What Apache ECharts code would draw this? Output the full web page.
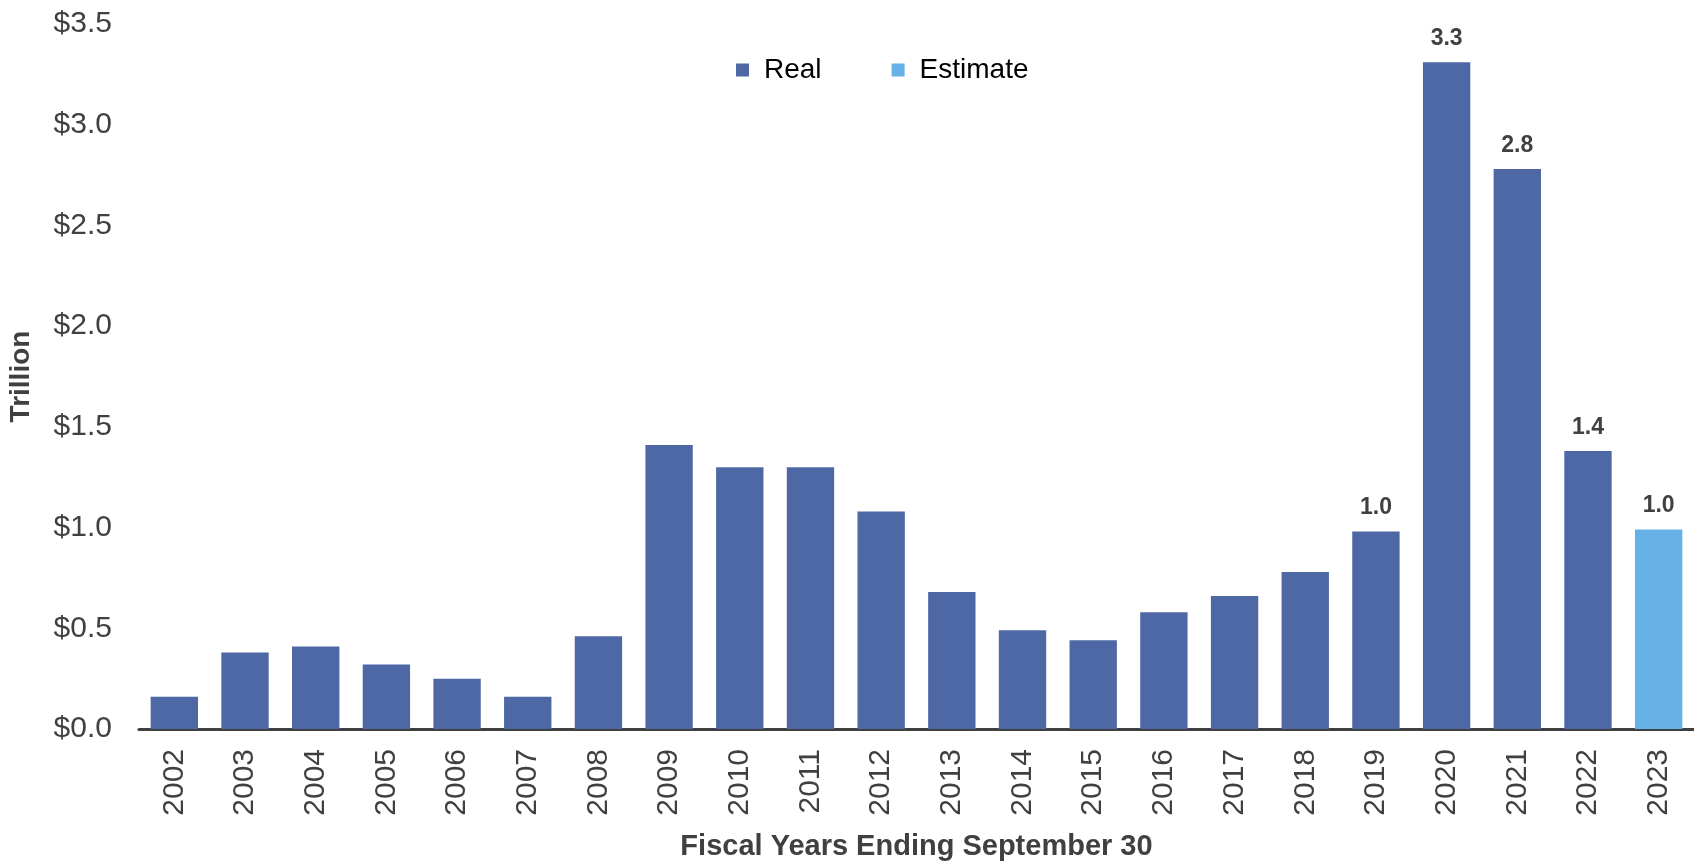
<!DOCTYPE html>
<html>
<head>
<meta charset="utf-8">
<script src="https://cdn.jsdelivr.net/npm/echarts@6/dist/echarts.min.js"></script>
<style>
  html, body { margin: 0; padding: 0; background: #fff; }
  #deficitChart { width: 1694px; height: 863px; }
</style>
</head>
<body>
<div id="deficitChart"></div>
<script>
// fiscal years and deficit in trillions
const years = ['2002', '2003', '2004', '2005', '2006', '2007', '2008', '2009', '2010', '2011', '2012',
  '2013', '2014', '2015', '2016', '2017', '2018', '2019', '2020', '2021', '2022', '2023'];
const realDeficit = [0.16, 0.38, 0.41, 0.32, 0.25, 0.16, 0.46, 1.41, 1.30, 1.30, 1.08,
  0.68, 0.49, 0.44, 0.58, 0.66, 0.78, 0.98, 3.31, 2.78, 1.38, null];
const estimateDeficit = [null, null, null, null, null, null, null, null, null, null, null,
  null, null, null, null, null, null, null, null, null, null, 0.99];
const labeledYears = ['2019', '2020', '2021', '2022', '2023'];

let myChart = echarts.init(document.getElementById('deficitChart'));

const barLabel = {
  show: true,
  position: 'top',
  distance: 12,
  color: '#404040',
  fontSize: 23,
  fontWeight: 'bold',
  fontFamily: 'Liberation Sans, Arial',
  formatter: function (p) {
    return labeledYears.indexOf(p.name) >= 0 && p.value != null ? p.value.toFixed(1) : '';
  }
};

myChart.setOption({
  animation: false,
  textStyle: { fontFamily: 'Liberation Sans, Arial' },
  grid: {
    top: 24,
    bottom: 134,
    left: 139,
    right: 0,
    containLabel: false,
    outerBoundsMode: 'none'
  },
  legend: {
    top: 51,
    left: 731,
    itemWidth: 13,
    itemHeight: 13,
    itemGap: 70,
    icon: 'rect',
    textStyle: {
      fontSize: 28,
      color: '#000',
      padding: [0, 0, 0, 10]
    },
    data: ['Real', 'Estimate']
  },
  xAxis: {
    type: 'category',
    data: years,
    name: 'Fiscal Years Ending September 30',
    nameLocation: 'middle',
    nameGap: 103,
    nameTextStyle: {
      fontSize: 29,
      fontWeight: 'bold',
      color: '#404040'
    },
    axisTick: { show: false },
    axisLine: {
      lineStyle: { color: '#404040', width: 3 }
    },
    axisLabel: {
      rotate: 90,
      margin: 20,
      fontSize: 30,
      color: '#404040'
    }
  },
  yAxis: {
    type: 'value',
    min: 0,
    max: 3.5,
    interval: 0.5,
    name: 'Trillion',
    nameLocation: 'middle',
    nameRotate: 90,
    nameGap: 104,
    nameTextStyle: {
      fontSize: 28,
      fontWeight: 'bold',
      color: '#404040'
    },
    splitLine: { show: false },
    axisLine: { show: false },
    axisTick: { show: false },
    axisLabel: {
      margin: 27,
      fontSize: 30,
      color: '#404040',
      formatter: function (v) {
        return '$' + v.toFixed(1);
      }
    }
  },
  series: [
    {
      name: 'Real',
      type: 'bar',
      data: realDeficit,
      barCategoryGap: '33%',
      barGap: '-100%',
      itemStyle: { color: '#4e67a5' },
      label: barLabel
    },
    {
      name: 'Estimate',
      type: 'bar',
      data: estimateDeficit,
      barCategoryGap: '33%',
      barGap: '-100%',
      itemStyle: { color: '#66b1e8' },
      label: barLabel
    }
  ]
});
</script>
</body>
</html>
